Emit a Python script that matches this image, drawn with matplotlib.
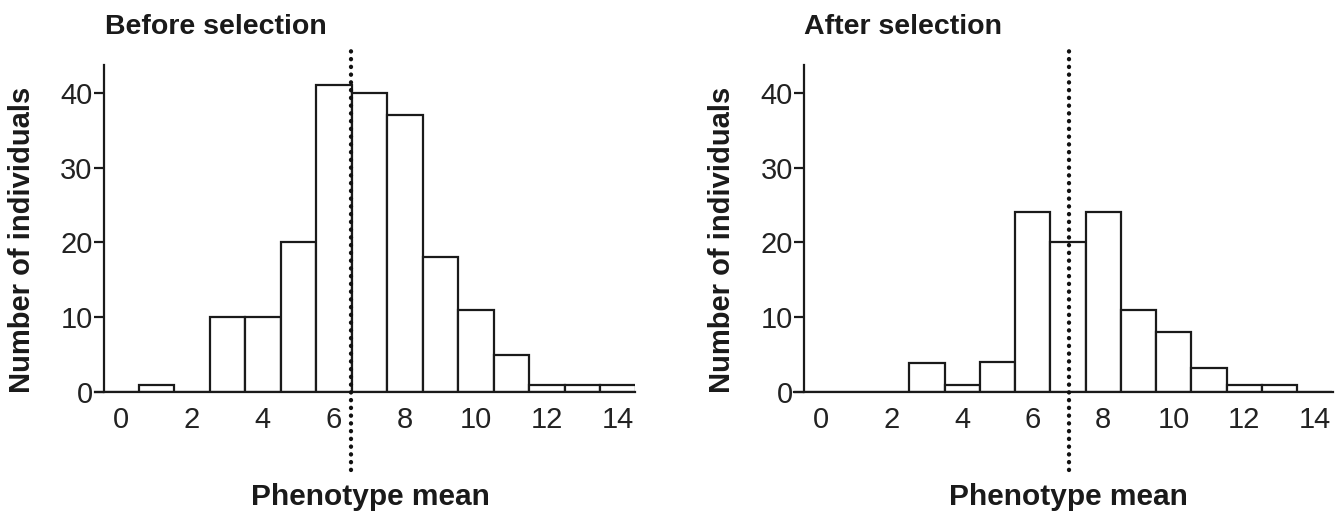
import numpy as np
import matplotlib.pyplot as plt

# bin centres (width 1) and counts
bins = np.arange(0, 15)
before_counts = [0, 1, 0, 10, 10, 20, 41, 40, 37, 18, 11, 5, 1, 1, 1]
after_counts = [0, 0, 0, 3.9, 0.9, 4, 24, 20, 24, 11, 8, 3.2, 0.9, 0.9, 0]
before_mean = 6.48
after_mean = 7.03
xticks = [0, 2, 4, 6, 8, 10, 12, 14]
yticks = [0, 10, 20, 30, 40]

plt.rcParams['font.family'] = ['Liberation Sans', 'DejaVu Sans']

W, H = 1338, 519
fig = plt.figure(figsize=(W / 100, H / 100), dpi=100)

panels = [
    dict(counts=before_counts, mean=before_mean, title='Before selection',
         box=(94.6, 635), xlim=(-0.74, 14.48), ylab_x=22, xlab_x=370),
    dict(counts=after_counts, mean=after_mean, title='After selection',
         box=(794, 1333), xlim=(-0.77, 14.52), ylab_x=722, xlab_x=1068),
]

y_bot, y_top = 392, 65
for p in panels:
    x0, x1 = p['box']
    ax = fig.add_axes([x0 / W, 1 - y_bot / H, (x1 - x0) / W, (y_bot - y_top) / H])
    ax.bar(bins, p['counts'], width=1.0, color='white', edgecolor='#1a1a1a',
           linewidth=1.6, zorder=2)
    ax.set_xlim(*p['xlim'])
    ax.set_ylim(0, 43.7)
    ax.spines['top'].set_visible(False)
    ax.spines['right'].set_visible(False)
    ax.spines['left'].set_position(('data', -0.48))
    for s in ('left', 'bottom'):
        ax.spines[s].set_linewidth(1.6)
        ax.spines[s].set_color('#1a1a1a')
    ax.set_xticks(xticks)
    ax.set_yticks(yticks)
    ax.tick_params(axis='x', length=0, pad=10, labelsize=21, labelcolor='#222222')
    ax.tick_params(axis='y', length=7, width=1.6, pad=1, labelsize=21,
                   labelcolor='#222222', color='#1a1a1a')
    # dotted mean line, running past the axes
    ax.plot([p['mean'], p['mean']], [-10.4, 46.1], color='#111111',
            linestyle=(0, (0.05, 1.75)), linewidth=3.1,
            dash_capstyle='round', clip_on=False, zorder=5)
    fig.text((x0 + 10) / W, 1 - 34 / H, p['title'], fontsize=20.5, fontweight='bold',
             ha='left', va='baseline', color='#1a1a1a')
    fig.text(p['ylab_x'] / W, 1 - 240 / H, 'Number of individuals', fontsize=21,
             fontweight='bold', rotation=90, ha='center', va='center', color='#1a1a1a')
    fig.text(p['xlab_x'] / W, 1 - 497 / H, 'Phenotype mean', fontsize=21.5,
             fontweight='bold', ha='center', va='center', color='#1a1a1a')

fig.savefig('out.png', dpi=100)
